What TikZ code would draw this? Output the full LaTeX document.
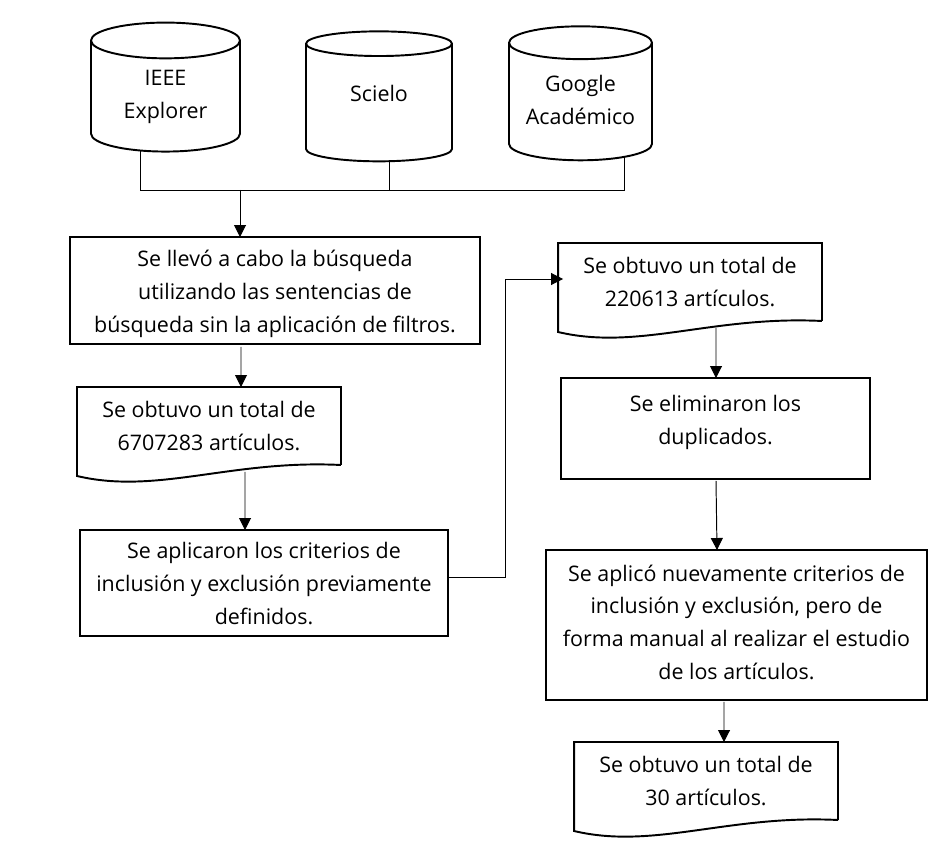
\documentclass[tikz,border=0pt]{standalone}
\usepackage{fontspec}
\setmainfont{Open Sans}
\usepackage{tikz}
\usetikzlibrary{shapes.geometric, arrows.meta, positioning}

% wavy document outline around a named node
\newcommand{\docwave}[1]{
\draw[docline] (#1.south east) -- (#1.north east) -- (#1.north west) -- ([yshift=-0.22cm]#1.south west)
    .. controls ([xshift=1.6cm,yshift=-0.6cm]#1.south west) and ([xshift=-2.2cm,yshift=0.11cm]#1.south east) .. (#1.south east);
}

\begin{document}
\begin{tikzpicture}[x=0.02cm, y=-0.02cm,
    every node/.style={font=\fontsize{12.2}{18.7}\selectfont, align=center, inner sep=0pt, outer sep=0pt},
    box/.style={rectangle, draw, line width=1.1pt},
    docbox/.style={rectangle, minimum width=5.28cm, minimum height=1.56cm},
    docline/.style={line width=1.1pt, line join=miter},
    dbase/.style={cylinder, draw, line width=1.1pt, shape border rotate=90, shape aspect=0.427},
    arrow/.style={-{Triangle[length=0.24cm, width=0.24cm]}, line width=0.55pt},
    link/.style={line width=0.55pt}
]
\useasboundingbox (0,0) rectangle (942,844);

% Databases
\node[dbase, minimum width=2.98cm, minimum height=2.58cm] (ieee) at (165.5,96.5) {IEEE\\Explorer};
\node[dbase, minimum width=2.92cm, minimum height=2.6cm] (scielo) at (379,103) {Scielo\\[-0.26cm]\mbox{}};
\node[dbase, shape aspect=0.3, minimum width=2.86cm, minimum height=2.68cm] (google) at (580.5,102) {Google\\Académico\\[-0.58cm]\mbox{}};

% Left column
\node[box, minimum width=8.2cm, minimum height=2.14cm] (search) at (275,290.5) {\mbox{}\\[-0.18cm]Se llevó a cabo la búsqueda\\utilizando las sentencias de\\búsqueda sin la aplicación de filtros.};
\node[docbox] (found1) at (209,426) {Se obtuvo un total de\\6707283 artículos.};
\node[box, minimum width=7.36cm, minimum height=2.12cm] (criteria) at (264,583) {\mbox{}\\[-0.3cm]Se aplicaron los criterios de\\inclusión y exclusión previamente\\definidos.};

% Right column
\node[docbox] (found2) at (690,282) {Se obtuvo un total de\\220613 artículos.};
\node[box, minimum width=6.18cm, minimum height=2.02cm] (remove) at (715.5,428.5) {Se eliminaron los\\duplicados.\\[-0.3cm]\mbox{}};
\node[box, minimum width=7.62cm, minimum height=3cm] (manual) at (736.5,625) {Se aplicó nuevamente criterios de\\inclusión y exclusión, pero de\\forma manual al realizar el estudio\\de los artículos.\\[-0.54cm]\mbox{}};
\node[docbox] (found3) at (706,781) {Se obtuvo un total de\\30 artículos.};

\docwave{found1}
\docwave{found2}
\docwave{found3}

% Junction under the databases
\coordinate (hubl) at (140,190);
\coordinate (hubm) at (389,190);
\coordinate (hubr) at (624,190);
\coordinate (hub) at (240,190);
\coordinate (bend1) at (505,577);
\coordinate (bend2) at (505,279);

% Arrows
\draw[link] ([yshift=0.02cm]ieee.south -| hubl) -- (hubl) -- (hubr) -- ([yshift=0.06cm]google.south -| hubr);
\draw[link] (scielo.south -| hubm) -- (hubm);
\draw[arrow] (hub) -- (search.north -| hub);
\draw[arrow] ([xshift=-0.68cm,yshift=-0.06cm]search.south) -- ([xshift=0.64cm]found1.north);
\draw[arrow] ([xshift=0.72cm,yshift=-0.14cm]found1.south) -- ([xshift=-0.38cm]criteria.north);
\draw[link] (criteria.east |- bend1) -- (bend1) -- (bend2);
\draw[arrow] (bend2) -- ([xshift=0.1cm]found2.west |- bend2);
\draw[arrow] ([xshift=0.52cm,yshift=-0.14cm]found2.south) -- ([xshift=0.01cm]remove.north);
\draw[arrow] ([xshift=0.01cm,yshift=-0.04cm]remove.south) -- ([xshift=-0.39cm]manual.north);
\draw[arrow] ([xshift=-0.25cm,yshift=-0.04cm]manual.south) -- ([xshift=0.36cm]found3.north);

\end{tikzpicture}
\end{document}
